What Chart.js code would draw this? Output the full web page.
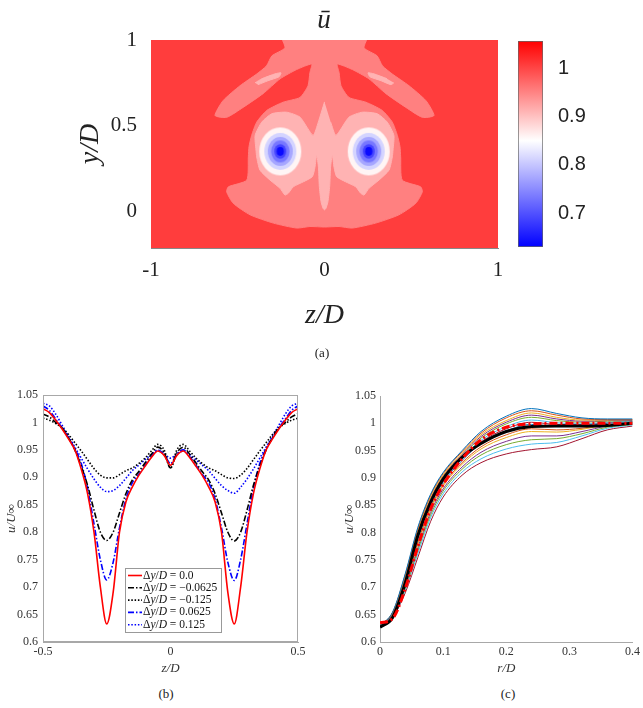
<!DOCTYPE html>
<html>
<head>
<meta charset="utf-8">
<script src="https://cdn.jsdelivr.net/npm/chart.js@4.4.1/dist/chart.umd.min.js"></script>
<style>
  html, body { margin:0; padding:0; background:#fff; }
  body { width:643px; height:708px; position:relative; overflow:hidden; font-family:"Liberation Serif", serif; color:#222; }
  .box { position:absolute; }
  .cap { position:absolute; font-size:13px; line-height:1; transform:translateX(-50%); white-space:nowrap; }
</style>
</head>
<body>
<div class="box" style="left:0;top:0;width:643px;height:340px"><canvas id="mapChart"></canvas></div>
<div class="box" style="left:500px;top:0;width:143px;height:300px"><canvas id="barChart"></canvas></div>
<div class="box" style="left:0;top:380px;width:320px;height:300px"><canvas id="zChart"></canvas></div>
<div class="box" style="left:323px;top:380px;width:320px;height:300px"><canvas id="rChart"></canvas></div>
<div class="cap" style="left:324px;top:6px;font-size:27px;font-style:italic">ū</div>
<div class="cap" style="left:322px;top:346px">(a)</div>
<div class="cap" style="left:166px;top:687px">(b)</div>
<div class="cap" style="left:508px;top:687px">(c)</div>
<script>
// ---- (a) contour map: level boundaries in (z/D, y/D)
const mapXTicks = [-1, 0, 1];
const mapXLabels = ['-1', '0', '1'];
const mapYTicks = [0, 0.5, 1];
const mapYLabels = ['0', '0.5', '1'];

const wakeOuter = [
  [-0.247,1.01],[-0.228,0.954],[-0.303,0.908],[-0.334,0.850],[-0.391,0.802],[-0.487,0.734],[-0.585,0.647],[-0.631,0.561],
  [-0.564,0.550],[-0.469,0.608],[-0.354,0.688],[-0.256,0.774],[-0.161,0.828],[-0.074,0.860],[-0.084,0.811],[-0.095,0.734],
  [-0.141,0.666],[-0.239,0.638],[-0.333,0.590],[-0.391,0.522],[-0.420,0.445],[-0.435,0.380],[-0.439,0.320],[-0.448,0.185],
  [-0.554,0.146],[-0.564,0.117],[-0.526,0.050],[-0.429,-0.017],[-0.295,-0.065],[-0.160,-0.094],[-0.084,-0.085],[0,-0.088],
  [0.084,-0.085],[0.160,-0.094],[0.295,-0.065],[0.429,-0.017],[0.526,0.050],[0.564,0.117],[0.554,0.146],[0.448,0.185],
  [0.439,0.320],[0.435,0.380],[0.420,0.445],[0.391,0.522],[0.333,0.590],[0.239,0.638],[0.141,0.666],[0.095,0.734],
  [0.084,0.811],[0.074,0.860],[0.161,0.828],[0.256,0.774],[0.354,0.688],[0.469,0.608],[0.564,0.550],[0.631,0.561],
  [0.585,0.647],[0.487,0.734],[0.391,0.802],[0.334,0.850],[0.303,0.908],[0.228,0.954],[0.247,1.01]
];
const wakeInner = [
  [0,0.640],[-0.036,0.522],[-0.066,0.445],[-0.141,0.551],[-0.218,0.580],[-0.304,0.571],[-0.362,0.522],[-0.400,0.445],
  [-0.395,0.360],[-0.391,0.320],[-0.372,0.243],[-0.314,0.185],[-0.256,0.137],[-0.228,0.098],[-0.209,0.108],[-0.180,0.146],
  [-0.122,0.175],[-0.070,0.205],[-0.055,0.260],[-0.045,0.330],[-0.035,0.260],[-0.030,0.150],[-0.020,0.060],[-0.008,0.020],
  [0,0.012],[0.008,0.020],[0.020,0.060],[0.030,0.150],[0.035,0.260],[0.045,0.330],[0.055,0.260],[0.070,0.205],
  [0.122,0.175],[0.180,0.146],[0.209,0.108],[0.228,0.098],[0.256,0.137],[0.314,0.185],[0.372,0.243],[0.391,0.320],
  [0.395,0.360],[0.400,0.445],[0.362,0.522],[0.304,0.571],[0.218,0.580],[0.141,0.551],[0.066,0.445],[0.036,0.522]
];
const wingLeft = [[-0.400,0.751],[-0.360,0.775],[-0.285,0.803],[-0.251,0.809],[-0.262,0.786],[-0.326,0.763],[-0.383,0.740]];
const wingRight = [[0.400,0.751],[0.383,0.740],[0.326,0.763],[0.262,0.786],[0.251,0.809],[0.285,0.803],[0.360,0.775]];
const eyeZ = [-0.255, 0.255];
const eyeY = [0.352, 0.352];

// colour bar
const cbarRange = [0.63, 1.056];
const cbarTicks = [0.7, 0.8, 0.9, 1];
const cbarLabels = ['0.7', '0.8', '0.9', '1'];

// ---- (b) spanwise profiles
const zB = [-0.5,-0.475,-0.45,-0.425,-0.4,-0.375,-0.35,-0.325,-0.3,-0.275,-0.25,-0.225,-0.2,-0.175,-0.15,-0.125,-0.1,-0.075,-0.05,-0.025,
  0,0.025,0.05,0.075,0.1,0.125,0.15,0.175,0.2,0.225,0.25,0.275,0.3,0.325,0.35,0.375,0.4,0.425,0.45,0.475,0.5];
const dy000 = [1.025,1.018,1.004,0.988,0.970,0.950,0.915,0.870,0.800,0.700,0.633,0.690,0.800,0.855,0.882,0.903,0.920,0.936,0.948,0.940,
  0.922,0.940,0.948,0.936,0.920,0.903,0.882,0.855,0.800,0.690,0.633,0.700,0.800,0.870,0.915,0.950,0.970,0.988,1.004,1.018,1.025];
const dyM0625 = [1.015,1.010,1.000,0.990,0.972,0.950,0.920,0.885,0.840,0.800,0.785,0.800,0.835,0.870,0.895,0.910,0.926,0.942,0.955,0.945,
  0.917,0.945,0.955,0.942,0.926,0.910,0.895,0.870,0.835,0.800,0.784,0.800,0.840,0.885,0.920,0.950,0.972,0.990,1.000,1.010,1.016];
const dyM125 = [1.008,1.004,0.998,0.990,0.978,0.963,0.948,0.932,0.916,0.904,0.899,0.899,0.905,0.912,0.917,0.925,0.935,0.948,0.960,0.950,
  0.917,0.950,0.960,0.948,0.935,0.925,0.917,0.912,0.905,0.899,0.898,0.904,0.916,0.932,0.948,0.963,0.978,0.990,0.998,1.004,1.008];
const dyP0625 = [1.030,1.022,1.006,0.990,0.972,0.952,0.925,0.880,0.815,0.750,0.713,0.745,0.808,0.860,0.890,0.905,0.922,0.938,0.950,0.942,
  0.925,0.942,0.950,0.938,0.922,0.905,0.890,0.860,0.808,0.745,0.712,0.750,0.815,0.880,0.925,0.952,0.972,0.990,1.006,1.022,1.030];
const dyP125 = [1.035,1.030,1.015,0.995,0.975,0.955,0.935,0.915,0.897,0.882,0.874,0.876,0.885,0.898,0.912,0.922,0.932,0.942,0.948,0.943,
  0.935,0.943,0.948,0.942,0.932,0.922,0.912,0.898,0.885,0.876,0.871,0.882,0.897,0.915,0.935,0.955,0.975,0.995,1.015,1.030,1.035];
const legendB = ['0.0', '\u22120.0625', '\u22120.125', '0.0625', '0.125'];
const uTicks = [0.6,0.65,0.7,0.75,0.8,0.85,0.9,0.95,1,1.05];
const uLabels = ['0.6','0.65','0.7','0.75','0.8','0.85','0.9','0.95','1','1.05'];
const zTicks = [-0.5, 0, 0.5];
const zLabels = ['-0.5', '0', '0.5'];

// ---- (c) radial profiles
const rC = [0,0.02,0.04,0.06,0.08,0.1,0.13,0.16,0.2,0.24,0.28,0.32,0.36,0.4];
const p01 = [0.630,0.655,0.725,0.810,0.870,0.910,0.950,0.985,1.013,1.027,1.018,1.010,1.008,1.008];
const p02 = [0.630,0.654,0.723,0.807,0.868,0.908,0.948,0.982,1.010,1.023,1.015,1.008,1.007,1.007];
const p03 = [0.630,0.654,0.721,0.804,0.865,0.905,0.945,0.979,1.005,1.019,1.011,1.006,1.006,1.007];
const p04 = [0.630,0.653,0.719,0.801,0.862,0.903,0.943,0.976,1.002,1.015,1.008,1.004,1.005,1.006];
const p05 = [0.630,0.653,0.718,0.798,0.860,0.901,0.941,0.973,0.999,1.011,1.005,1.002,1.004,1.005];
const p06 = [0.630,0.652,0.715,0.795,0.856,0.897,0.937,0.969,0.994,1.006,1.001,0.999,1.002,1.004];
const p07 = [0.630,0.652,0.713,0.792,0.854,0.895,0.935,0.966,0.990,1.002,0.998,0.998,1.001,1.004];
const p08 = [0.630,0.651,0.711,0.789,0.851,0.892,0.932,0.963,0.986,0.998,0.994,0.995,1.000,1.003];
const p09 = [0.630,0.650,0.708,0.783,0.846,0.888,0.928,0.957,0.979,0.990,0.988,0.991,0.998,1.002];
const p10 = [0.630,0.649,0.705,0.779,0.842,0.885,0.925,0.953,0.974,0.985,0.984,0.989,0.997,1.001];
const p11 = [0.630,0.648,0.702,0.773,0.837,0.880,0.920,0.947,0.967,0.977,0.977,0.985,0.995,0.999];
const p12 = [0.630,0.648,0.698,0.768,0.832,0.876,0.916,0.942,0.961,0.970,0.972,0.981,0.993,0.998];
const p13 = [0.630,0.646,0.695,0.762,0.827,0.871,0.911,0.935,0.953,0.962,0.965,0.977,0.991,0.997];
const p14 = [0.630,0.645,0.690,0.755,0.820,0.865,0.905,0.928,0.944,0.952,0.957,0.972,0.988,0.995];
const meanProfile = [0.627,0.645,0.708,0.795,0.855,0.898,0.938,0.963,0.985,0.994,0.995,0.995,0.996,1.000];
const fitProfile  = [0.635,0.643,0.698,0.775,0.843,0.888,0.935,0.970,0.993,0.999,1.000,1.000,1.000,1.000];
const rTicks = [0, 0.1, 0.2, 0.3, 0.4];
const rLabels = ['0', '0.1', '0.2', '0.3', '0.4'];

// ---------------------------------------------------------------
const SERIF = 'Liberation Serif';
const matlab = ['#0072BD','#D95319','#EDB120','#7E2F8E','#77AC30','#4DBEEE','#A2142F'];
const pts = arr => arr.map(([x, y]) => ({x, y}));
const xy = (xs, ys) => xs.map((x, i) => ({x, y: ys[i]}));
const fixTicks = list => s => { s.ticks = list.map(v => ({value: v})); };

function poly(arr, color){
  return { data: pts(arr), showLine: true, fill: 'shape', tension: 0.2,
    borderColor: color, backgroundColor: color, borderWidth: 1, pointRadius: 0 };
}
function ellipse(rx, ry, color){
  const c = document.createElement('canvas');
  c.width = Math.ceil(rx * 2) + 2; c.height = Math.ceil(ry * 2) + 2;
  const g = c.getContext('2d');
  g.fillStyle = color;
  g.beginPath(); g.ellipse(c.width / 2, c.height / 2, rx, ry, 0, 0, Math.PI * 2); g.fill();
  return c;
}
function ring(rx, ry, color){
  return { data: xy(eyeZ, eyeY), showLine: false, pointRadius: 1, pointStyle: ellipse(rx, ry, color) };
}

const mapBg = {
  id: 'mapBg',
  beforeDatasetsDraw(chart){
    const {ctx, chartArea: a} = chart;
    ctx.save(); ctx.fillStyle = '#ff3d3d';
    ctx.fillRect(a.left, a.top, a.right - a.left, a.bottom - a.top);
    ctx.restore();
  }
};

new Chart(document.getElementById('mapChart'), {
  type: 'scatter',
  data: { datasets: [
    ring(3.6, 4.4, '#0a0aff'),
    ring(6, 7.3, '#4444ff'),
    ring(9.2, 11, '#7777ff'),
    ring(12.5, 14.5, '#a6a6ff'),
    ring(16, 18.5, '#d4d4ff'),
    ring(21, 24, '#fff5f5'),
    poly(wingLeft, '#ffb3b3'),
    poly(wingRight, '#ffb3b3'),
    poly(wakeInner, '#ffb3b3'),
    poly(wakeOuter, '#ff8080')
  ]},
  options: {
    responsive: true, maintainAspectRatio: false, animation: false,
    layout: { padding: { left: 70, top: 40, right: 145, bottom: 4 } },
    plugins: { legend: { display: false }, tooltip: { enabled: false } },
    scales: {
      x: { type: 'linear', min: -1, max: 1, z: 1,
        afterBuildTicks: fixTicks(mapXTicks), afterFit: s => { s.height = 88; },
        grid: { display: false, drawTicks: false }, border: { color: '#888' },
        ticks: { padding: 10, color: '#222', font: { family: SERIF, size: 21 }, callback: (v, i) => mapXLabels[i] },
        title: { display: true, text: 'z/D', color: '#222', padding: { top: 0, bottom: 4 }, font: { family: SERIF, size: 28, style: 'italic' } } },
      y: { type: 'linear', min: -0.21, max: 1, z: 1,
        afterBuildTicks: fixTicks(mapYTicks), afterFit: s => { s.width = 81; },
        grid: { display: false, drawTicks: false }, border: { color: '#888' },
        ticks: { padding: 14, color: '#222', font: { family: SERIF, size: 21 }, callback: (v, i) => mapYLabels[i] },
        title: { display: true, text: 'y/D', color: '#222', padding: { top: 4, bottom: 0 }, font: { family: SERIF, size: 28, style: 'italic' } } }
    }
  },
  plugins: [mapBg]
});

// colour bar
new Chart(document.getElementById('barChart'), {
  type: 'bar',
  data: { labels: [''], datasets: [{
    data: [cbarRange],
    barPercentage: 1, categoryPercentage: 1, borderSkipped: false,
    borderWidth: 1, borderColor: '#666',
    backgroundColor: c => {
      const a = c.chart.chartArea;
      if (!a) return '#fff';
      const g = c.chart.ctx.createLinearGradient(0, a.bottom, 0, a.top);
      g.addColorStop(0, 'rgb(0,0,255)');
      g.addColorStop(0.516, 'rgb(255,255,255)');
      g.addColorStop(1, 'rgb(255,0,0)');
      return g;
    }
  }]},
  options: {
    responsive: true, maintainAspectRatio: false, animation: false,
    layout: { padding: { left: 18, top: 41, right: 40, bottom: 53 } },
    plugins: { legend: { display: false }, tooltip: { enabled: false } },
    scales: {
      x: { display: false },
      y: { position: 'right', min: cbarRange[0], max: cbarRange[1],
        afterBuildTicks: fixTicks(cbarTicks), afterFit: s => { s.width = 60; },
        grid: { display: false, drawTicks: false }, border: { display: false },
        ticks: { padding: 15, color: '#222', font: { family: 'Liberation Sans', size: 20 }, callback: (v, i) => cbarLabels[i] } }
    }
  }
});

// ---- (b)
const frame = {
  id: 'frame',
  afterDraw(chart){
    const {ctx, chartArea: a} = chart;
    ctx.save(); ctx.strokeStyle = '#a8a8a8'; ctx.lineWidth = 1;
    ctx.strokeRect(a.left + 0.5, a.top + 0.5, a.right - a.left - 1, a.bottom - a.top - 1);
    ctx.restore();
  }
};
function drawLegendText(ctx, val, x, y){
  const parts = [['\u0394', 'normal'], ['y', 'italic'], ['/', 'normal'], ['D', 'italic'], [' = ' + val, 'normal']];
  ctx.fillStyle = '#111'; ctx.textBaseline = 'middle'; ctx.textAlign = 'left';
  for (const [t, st] of parts){
    ctx.font = `${st} 11.5px "${SERIF}"`;
    ctx.fillText(t, x, y);
    x += ctx.measureText(t).width;
  }
}
const legendBox = {
  id: 'legendBox',
  afterDraw(chart){
    const {ctx, chartArea: a} = chart;
    const x = a.left + 82, y = a.top + 173, w = 96, h = 64;
    ctx.save();
    ctx.fillStyle = '#fff'; ctx.fillRect(x, y, w, h);
    ctx.strokeStyle = '#999'; ctx.lineWidth = 1; ctx.strokeRect(x + 0.5, y + 0.5, w, h);
    chart.data.datasets.forEach((ds, i) => {
      const ly = y + 7.5 + i * 12.3;
      ctx.strokeStyle = ds.borderColor; ctx.lineWidth = ds.borderWidth;
      ctx.setLineDash(ds.borderDash || []);
      ctx.beginPath(); ctx.moveTo(x + 3, ly); ctx.lineTo(x + 17, ly); ctx.stroke();
      ctx.setLineDash([]);
      drawLegendText(ctx, legendB[i], x + 18, ly);
    });
    ctx.restore();
  }
};
const dashDot = [6, 2, 1.5, 2];
const dotted = [1.5, 1.8];
function profile(ys, color, dash){
  return { data: xy(zB, ys), borderColor: color, borderWidth: 1.6, borderDash: dash,
    pointRadius: 0, cubicInterpolationMode: 'monotone', fill: false };
}
function axisFont(){ return { family: SERIF, size: 12 }; }
function axisTitle(text, pad){ return { display: true, text, color: '#333', padding: pad, font: { family: SERIF, size: 13, style: 'italic' } }; }

new Chart(document.getElementById('zChart'), {
  type: 'line',
  data: { datasets: [
    profile(dy000, '#ff0000', []),
    profile(dyM0625, '#000000', dashDot),
    profile(dyM125, '#000000', dotted),
    profile(dyP0625, '#0000ff', dashDot),
    profile(dyP125, '#0000ff', dotted)
  ]},
  options: {
    responsive: true, maintainAspectRatio: false, animation: false,
    layout: { padding: { left: 0, top: 15, right: 22, bottom: 0 } },
    plugins: { legend: { display: false }, tooltip: { enabled: false } },
    scales: {
      x: { type: 'linear', min: -0.5, max: 0.5,
        afterBuildTicks: fixTicks(zTicks), afterFit: s => { s.height = 38; },
        grid: { display: false, drawTicks: false }, border: { color: '#a8a8a8' },
        ticks: { padding: 3, color: '#333', font: axisFont(), callback: (v, i) => zLabels[i] },
        title: axisTitle('z/D', { top: 0, bottom: 4 }) },
      y: { type: 'linear', min: 0.6, max: 1.05,
        afterBuildTicks: fixTicks(uTicks), afterFit: s => { s.width = 43; },
        grid: { display: false, drawTicks: false }, border: { color: '#a8a8a8' },
        ticks: { padding: 5, color: '#333', font: axisFont(), callback: (v, i) => uLabels[i] },
        title: axisTitle('u/U\u221E', { top: 4, bottom: 0 }) }
    }
  },
  plugins: [frame, legendBox]
});

// ---- (c)
const family = [p01,p02,p03,p04,p05,p06,p07,p08,p09,p10,p11,p12,p13,p14];
const thin = family.map((ys, i) => ({ data: xy(rC, ys), borderColor: matlab[i % 7], borderWidth: 1,
  pointRadius: 0, cubicInterpolationMode: 'monotone', fill: false }));

new Chart(document.getElementById('rChart'), {
  type: 'line',
  data: { datasets: [
    { data: xy(rC, fitProfile), borderColor: '#ff0000', borderWidth: 3, borderDash: [8, 3, 2, 3],
      pointRadius: 0, cubicInterpolationMode: 'monotone', fill: false },
    { data: xy(rC, meanProfile), borderColor: '#000000', borderWidth: 3,
      pointRadius: 0, cubicInterpolationMode: 'monotone', fill: false },
    ...thin
  ]},
  options: {
    responsive: true, maintainAspectRatio: false, animation: false,
    layout: { padding: { left: 15, top: 16, right: 8, bottom: 0 } },
    plugins: { legend: { display: false }, tooltip: { enabled: false } },
    scales: {
      x: { type: 'linear', min: 0, max: 0.4,
        afterBuildTicks: fixTicks(rTicks), afterFit: s => { s.height = 38; },
        grid: { display: false, drawTicks: false }, border: { color: '#a8a8a8' },
        ticks: { padding: 3, color: '#333', font: axisFont(), callback: (v, i) => rLabels[i] },
        title: axisTitle('r/D', { top: 0, bottom: 4 }) },
      y: { type: 'linear', min: 0.6, max: 1.05,
        afterBuildTicks: fixTicks(uTicks), afterFit: s => { s.width = 42; },
        grid: { display: false, drawTicks: false }, border: { color: '#a8a8a8' },
        ticks: { padding: 4, color: '#333', font: axisFont(), callback: (v, i) => uLabels[i] },
        title: axisTitle('u/U\u221E', { top: 4, bottom: 0 }) }
    }
  }
});
</script>
</body>
</html>
